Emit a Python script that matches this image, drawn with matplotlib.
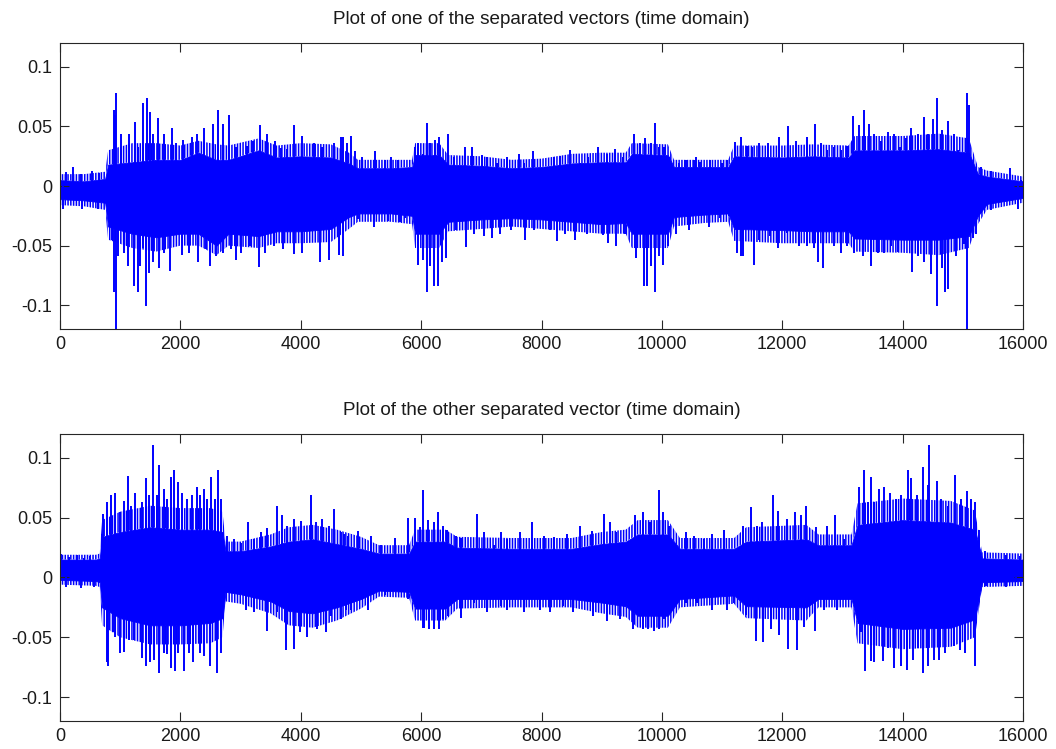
import numpy as np
import matplotlib
matplotlib.use("Agg")
import matplotlib.pyplot as plt

plt.rcParams['font.family'] = ['Liberation Sans', 'DejaVu Sans']
plt.rcParams['hatch.linewidth'] = 1.1

# --- values (sample index, amplitude) ---
# solid band of each separated vector: knots of its upper / lower edge
top_core_x = [0, 400, 750, 800, 1200, 1600, 2000, 2300, 2600, 2800, 3300, 3600, 4000,
              4500, 4800, 4950, 5500, 5850, 5900, 6300, 6450, 7000, 7500, 8000, 8500,
              9000, 9400, 9500, 10100, 10200, 10700, 11100, 11200, 12000, 12500, 13100,
              13200, 14000, 14600, 15100, 15250, 15400, 16000]
top_core_hi = [0.005, 0.004, 0.006, 0.018, 0.020, 0.022, 0.022, 0.028, 0.022, 0.022, 0.030,
               0.024, 0.025, 0.024, 0.019, 0.015, 0.015, 0.016, 0.026, 0.026, 0.018, 0.017,
               0.015, 0.016, 0.019, 0.020, 0.020, 0.027, 0.026, 0.016, 0.016, 0.016, 0.025,
               0.024, 0.025, 0.024, 0.030, 0.030, 0.031, 0.028, 0.010, 0.008, 0.004]
top_core_lo = [-0.011, -0.012, -0.014, -0.034, -0.040, -0.043, -0.040, -0.040, -0.050,
               -0.040, -0.042, -0.038, -0.038, -0.036, -0.026, -0.023, -0.023, -0.025,
               -0.040, -0.040, -0.030, -0.028, -0.027, -0.028, -0.030, -0.032, -0.031,
               -0.040, -0.040, -0.026, -0.024, -0.023, -0.036, -0.037, -0.038, -0.038,
               -0.044, -0.045, -0.045, -0.042, -0.025, -0.015, -0.010]
# looser fringe of short peaks around the solid band (same knots)
top_fringe_hi = [0.010, 0.010, 0.012, 0.030, 0.036, 0.036, 0.034, 0.038, 0.035, 0.034,
                 0.040, 0.034, 0.036, 0.035, 0.028, 0.022, 0.022, 0.022, 0.036, 0.036,
                 0.026, 0.025, 0.022, 0.023, 0.027, 0.028, 0.028, 0.036, 0.035, 0.022,
                 0.022, 0.022, 0.034, 0.034, 0.035, 0.034, 0.042, 0.042, 0.044, 0.040,
                 0.016, 0.013, 0.008]
top_fringe_lo = [-0.016, -0.017, -0.020, -0.045, -0.052, -0.055, -0.050, -0.050, -0.058,
                 -0.050, -0.052, -0.048, -0.048, -0.047, -0.036, -0.030, -0.030, -0.032,
                 -0.052, -0.052, -0.038, -0.036, -0.034, -0.036, -0.038, -0.040, -0.040,
                 -0.052, -0.052, -0.034, -0.031, -0.030, -0.046, -0.048, -0.048, -0.048,
                 -0.055, -0.056, -0.058, -0.052, -0.032, -0.020, -0.014]

bot_core_x = [0, 600, 660, 700, 1000, 1500, 2000, 2500, 2700, 2750, 3000, 3500, 3800,
              4200, 4600, 5000, 5300, 5800, 5900, 6400, 6600, 7500, 8500, 9000, 9400,
              9600, 10100, 10300, 11200, 11400, 12400, 12600, 13150, 13250, 14000,
              14800, 15200, 15320, 16000]
bot_core_hi = [0.015, 0.015, 0.016, 0.034, 0.038, 0.042, 0.040, 0.040, 0.038, 0.022, 0.022,
               0.026, 0.030, 0.032, 0.028, 0.024, 0.020, 0.020, 0.030, 0.030, 0.025, 0.024,
               0.024, 0.028, 0.030, 0.036, 0.036, 0.024, 0.024, 0.030, 0.032, 0.027, 0.027,
               0.044, 0.048, 0.046, 0.040, 0.016, 0.015]
bot_core_lo = [-0.002, -0.003, -0.004, -0.025, -0.034, -0.040, -0.040, -0.038, -0.034,
               -0.012, -0.014, -0.020, -0.028, -0.030, -0.025, -0.018, -0.011, -0.012,
               -0.026, -0.026, -0.018, -0.018, -0.018, -0.021, -0.024, -0.032, -0.032,
               -0.018, -0.015, -0.024, -0.025, -0.018, -0.018, -0.038, -0.043, -0.042,
               -0.035, -0.004, -0.003]
bot_fringe_hi = [0.019, 0.019, 0.020, 0.048, 0.055, 0.060, 0.058, 0.058, 0.055, 0.030,
                 0.030, 0.036, 0.042, 0.044, 0.040, 0.034, 0.027, 0.027, 0.040, 0.040,
                 0.034, 0.033, 0.033, 0.038, 0.040, 0.048, 0.048, 0.033, 0.033, 0.042,
                 0.044, 0.036, 0.036, 0.062, 0.066, 0.064, 0.056, 0.021, 0.020]
bot_fringe_lo = [-0.006, -0.007, -0.008, -0.040, -0.050, -0.056, -0.056, -0.055, -0.050,
                 -0.020, -0.022, -0.030, -0.040, -0.042, -0.036, -0.026, -0.016, -0.017,
                 -0.036, -0.036, -0.026, -0.025, -0.025, -0.030, -0.033, -0.042, -0.042,
                 -0.025, -0.022, -0.034, -0.036, -0.025, -0.025, -0.055, -0.060, -0.058,
                 -0.050, -0.008, -0.007]

# individual peaks sticking out of the band
top_spike_x = [100, 211, 350, 528, 640, 56, 361, 639,
               861, 890, 905, 910, 928, 928, 972, 1011, 1067, 1128, 1139, 1222, 1250, 1289,
               1289, 1322, 1378, 1378, 1433, 1445, 1483, 1489, 1545, 1545, 1633, 1639,
               1722, 1722, 1833, 1861, 1928, 2028, 2045, 2150, 2195, 2278, 2289, 2400,
               2433, 2500, 2539, 2600, 2628, 2711, 2711, 2811, 2833, 2922, 2928, 3011,
               3111, 3156, 3200, 3306, 3322, 3400, 3445, 3556, 3567, 3667, 3711, 3778,
               3889, 3889, 4028, 4028, 4222, 4322, 4361, 4472, 4556, 4639, 4667, 4834,
               4708, 4708, 4763, 4900, 4955, 5021, 5219, 5230, 5395, 5450, 5505, 5615,
               5643, 5725, 5808, 5890, 5956, 5956, 6028, 6028, 6099, 6099, 6149, 6154,
               6220, 6237, 6275, 6292, 6341, 6412, 6440, 6550, 6578, 6726, 6742, 6853,
               6880, 7018, 7045, 7100, 7182, 7265, 7309, 7430, 7485, 7622, 7705, 7732,
               7859, 7870, 7953, 8063, 8145, 8200, 8255, 8310, 8392, 8475, 8558, 8640,
               8750, 8778, 8943, 9025, 9080, 9108, 9218, 9245, 9355, 9382, 9537, 9575,
               9630, 9696, 9713, 9751, 9823, 9823, 9883, 9883, 9960, 9960, 10026, 10043,
               10098, 10114, 10235, 10290, 10400, 10455, 10565,
               10528, 10583, 10639, 10789, 10806, 10972, 11000, 11083, 11111, 11222,
               11250, 11306, 11306, 11350, 11417, 11500, 11528, 11611, 11611, 11761,
               11794, 11928, 11945, 12083, 12100, 12222, 12278, 12406, 12417, 12528,
               12539, 12600, 12639, 12683, 12750, 12861, 12861, 12972, 12972, 13083,
               13083, 13183, 13194, 13278, 13333, 13361, 13433, 13472, 13517, 13583,
               13639, 13694, 13750, 13806, 13861, 13928, 13961, 14056, 14139, 14150,
               14250, 14250, 14350, 14361, 14417, 14472, 14500, 14567, 14567, 14650,
               14650, 14705, 14750, 14761, 14861, 14889, 14917, 15017, 15067, 15072,
               15100, 15167, 15222, 15306, 15306, 15472, 15472, 15778, 15917, 15972]
top_spike_y = [0.012, 0.016, 0.010, 0.013, 0.011, -0.019, -0.019, -0.019,
               -0.045, 0.064, -0.089, 0.060, 0.078, -0.130, -0.059, 0.044, -0.056, -0.067,
               0.044, -0.084, 0.054, 0.033, -0.089, -0.067, 0.070, -0.052, -0.101, 0.074,
               -0.073, 0.062, 0.044, -0.064, 0.057, -0.069, 0.044, -0.056, -0.071, 0.049,
               0.036, -0.058, 0.039, -0.056, 0.041, 0.044, -0.064, 0.049, -0.053, -0.067,
               0.052, -0.059, 0.064, 0.052, -0.056, 0.060, -0.053, -0.062, 0.033, -0.056,
               0.034, -0.050, 0.038, -0.068, 0.051, -0.056, 0.044, -0.050, 0.038, 0.032,
               -0.053, 0.031, 0.051, -0.057, 0.042, -0.056, 0.036, -0.064, 0.033, -0.062,
               0.036, -0.058, 0.041, 0.042,
               0.041, -0.059, 0.036, 0.029, -0.028, 0.024, -0.034, 0.029, 0.022, -0.029,
               0.024, 0.022, -0.030, -0.027, 0.014, 0.033, 0.036, -0.066, 0.027, -0.062,
               0.053, -0.089, -0.067, 0.036, -0.084, 0.039, -0.084, 0.041, -0.064, -0.060,
               0.044, 0.024, -0.037, 0.033, -0.051, 0.033, -0.040, 0.026, -0.042, 0.024,
               -0.044, 0.019, -0.040, 0.024, -0.037, 0.027, 0.019, -0.045, 0.029, -0.037,
               0.013, 0.016, -0.037, 0.024, -0.046, 0.025, -0.040, 0.030, -0.045, 0.019,
               -0.040, 0.024, 0.033, -0.041, 0.027, -0.048, 0.031, -0.050, 0.024, -0.040,
               0.044, -0.060, 0.036, -0.084, 0.040, -0.084, 0.036, -0.067, 0.053, -0.089,
               0.033, -0.059, -0.066, 0.033, -0.050, 0.024, -0.040, 0.019, 0.022, -0.037,
               0.024,
               0.022, -0.023, 0.020, -0.034, 0.022, -0.027, 0.019, 0.022, -0.025, 0.037,
               -0.056, 0.041, -0.059, -0.059, 0.034, 0.033, -0.066, 0.036, -0.045, 0.036,
               -0.042, -0.052, 0.041, -0.039, 0.050, 0.038, -0.050, 0.041, -0.050, -0.052,
               0.052, -0.064, 0.036, -0.069, 0.030, 0.033, -0.050, 0.030, -0.056, 0.034,
               -0.050, 0.059, -0.056, 0.051, -0.059, 0.064, 0.052, -0.067, 0.044, -0.056,
               0.038, -0.056, 0.045, -0.050, 0.044, -0.055, 0.033, 0.040, 0.049, -0.072,
               0.044, -0.059, 0.058, -0.064, 0.044, -0.074, 0.056, 0.074, -0.101, 0.047,
               -0.069, -0.089, 0.055, -0.086, 0.044, -0.059, 0.030, -0.049, 0.078, -0.130,
               0.068, -0.044, -0.040, 0.016, -0.023, 0.013, -0.020, 0.015, -0.019, 0.005]

bot_spike_x = [11, 150, 278, 400, 500, 100, 350, 560,
               694, 722, 778, 778, 806, 850, 889, 917, 922, 989, 989, 1056, 1067, 1128,
               1139, 1183, 1222, 1239, 1361, 1361, 1428, 1428, 1483, 1489, 1550, 1567,
               1611, 1644, 1650, 1722, 1722, 1778, 1778, 1845, 1845, 1900, 1906, 1956,
               1961, 2028, 2056, 2111, 2139, 2195, 2206, 2278, 2322, 2333, 2389, 2400,
               2445, 2500, 2517, 2583, 2611, 2628, 2667, 2678,
               2778, 2833, 2889, 3000, 3083, 3122, 3222, 3222, 3333, 3445, 3445, 3600,
               3611, 3695, 3756, 3778, 3889, 3889, 3989, 4000, 4111, 4167, 4250, 4278,
               4361, 4417, 4472, 4500, 4556, 4667, 4667, 4724, 4746, 4778, 4834, 4945,
               5120, 5164, 5340, 5395, 5560, 5643, 5780, 5780, 5890, 5973, 6028, 6039,
               6055, 6121, 6138, 6209, 6220, 6286, 6292, 6358, 6358, 6429, 6440, 6578,
               6660, 6660, 6880, 6935, 7045, 7100, 7210, 7320, 7320, 7430, 7430, 7650,
               7705, 7843, 7980, 8035, 8145, 8200, 8365, 8420, 8530, 8640, 8833, 8860,
               9036, 9080, 9135, 9245, 9300, 9520, 9548, 9685, 9685, 9768, 9795, 9861,
               9944, 9949, 10015, 10043, 10125, 10400, 10400, 10538, 10565,
               10528, 10583, 10694, 10833, 10833, 11028, 11083, 11194, 11350, 11389,
               11472, 11556, 11583, 11667, 11683, 11806, 11839, 11928, 11945, 12083,
               12100, 12206, 12239, 12306, 12361, 12389, 12539, 12556, 12694, 12750,
               12872, 12917, 13028, 13083, 13194, 13278, 13306, 13350, 13372, 13417,
               13472, 13472, 13517, 13528, 13611, 13667, 13694, 13750, 13794, 13861,
               13889, 13972, 13972, 14072, 14083, 14139, 14167, 14239, 14250, 14333,
               14333, 14420, 14428, 14445, 14528, 14572, 14611, 14639, 14695, 14750,
               14861, 14872, 14945, 14961, 15028, 15072, 15139, 15194, 15206, 15261,
               15361, 15389, 15722, 15722, 15889, 15945]
bot_spike_y = [0.020, 0.017, 0.019, 0.016, 0.018, -0.008, -0.009, -0.008,
               0.036, 0.053, 0.063, -0.071, -0.074, 0.069, -0.046, 0.071, -0.050, 0.055,
               -0.063, 0.064, -0.062, 0.085, -0.052, 0.060, -0.052, 0.071, 0.063, -0.067,
               0.083, -0.074, 0.069, -0.071, 0.111, -0.069, 0.069, 0.094, -0.080, 0.074,
               -0.063, 0.066, -0.064, 0.084, -0.076, 0.090, -0.078, 0.080, -0.063, 0.071,
               -0.078, 0.066, -0.063, 0.069, -0.071, 0.076, -0.063, 0.069, -0.066, 0.074,
               0.066, -0.074, 0.084, 0.066, -0.080, 0.090, -0.063, 0.066,
               0.035, -0.013, 0.032, 0.029, -0.027, 0.046, 0.032, -0.029, 0.038, 0.041,
               -0.045, 0.060, -0.029, 0.052, -0.061, 0.043, 0.049, -0.060, -0.046, 0.047,
               -0.050, 0.069, 0.046, -0.043, 0.049, -0.046, 0.043, -0.032, 0.057, 0.038,
               -0.035, 0.036, -0.027, 0.035, -0.027, 0.039,
               -0.027, 0.035, 0.027, -0.015, 0.033, -0.012, 0.050, -0.018, 0.050, 0.042,
               -0.042, 0.073, -0.042, 0.048, -0.043, 0.046, -0.043, 0.055, -0.043, 0.043,
               -0.035, 0.040, -0.032, 0.035, 0.033, -0.034, -0.021, 0.053, 0.038, -0.029,
               0.027, 0.038, -0.024, 0.032, -0.027, 0.038, -0.029, 0.046, -0.027, 0.035,
               -0.029, 0.034, -0.024, 0.036, -0.029, 0.043, 0.039, -0.032, 0.053, -0.036,
               0.046, 0.038, -0.035, -0.043, 0.052, 0.055, -0.043, -0.043, 0.046, -0.045,
               0.073, -0.043, 0.055, -0.035, 0.043, 0.038, -0.021, 0.035, -0.020,
               0.029, -0.021, 0.032, 0.036, -0.027, 0.040, -0.027, -0.021, 0.043, -0.031,
               0.059, -0.053, 0.043, 0.046, -0.054, -0.043, 0.069, 0.056, -0.048, 0.049,
               -0.060, 0.055, -0.061, 0.052, -0.041, 0.060, -0.045, 0.042, -0.027, 0.043,
               0.052, -0.027, 0.032, -0.018, 0.029, 0.076, -0.046, 0.090, -0.078, 0.063,
               0.084, -0.070, -0.071, 0.063, 0.074, -0.070, 0.076, -0.059, 0.071, -0.076,
               0.066, 0.069, -0.074, -0.077, 0.090, 0.083, -0.069, 0.069, -0.059, 0.092,
               -0.080, 0.077, -0.074, 0.111, -0.069, 0.081, -0.069, 0.066, -0.063, 0.060,
               -0.057, 0.086, -0.061, 0.066, -0.063, 0.072, 0.066, -0.074, 0.063, 0.040,
               0.022, -0.007, 0.019, -0.008, -0.004, 0.018]

titles = ["Plot of one of the separated vectors (time domain)",
          "Plot of the other separated vector (time domain)"]
x_ticks = [0, 2000, 4000, 6000, 8000, 10000, 12000, 14000, 16000]
y_ticks = [-0.1, -0.05, 0, 0.05, 0.1]
y_tick_labels = ["-0.1", "-0.05", "0", "0.05", "0.1"]

BLUE = "#0000ff"
EDGE = "#262626"

fig = plt.figure(figsize=(10.56, 7.49), dpi=100)
ax_top = fig.add_axes([0.0568, 0.5607, 0.9120, 0.3818])
ax_bot = fig.add_axes([0.0568, 0.0374, 0.9120, 0.3832])

panels = [
    (ax_top, top_core_x, top_core_hi, top_core_lo, top_fringe_hi, top_fringe_lo,
     top_spike_x, top_spike_y, titles[0]),
    (ax_bot, bot_core_x, bot_core_hi, bot_core_lo, bot_fringe_hi, bot_fringe_lo,
     bot_spike_x, bot_spike_y, titles[1]),
]

for ax, cx, chi, clo, fhi, flo, sx, sy, title in panels:
    # fringe: dense vertical hairs around the band
    ax.fill_between(cx, chi, fhi, facecolor="none", edgecolor=BLUE,
                    hatch="||||||", linewidth=0)
    ax.fill_between(cx, flo, clo, facecolor="none", edgecolor=BLUE,
                    hatch="||||||", linewidth=0)
    ax.fill_between(cx, clo, chi, color=BLUE, linewidth=0.6, edgecolor=BLUE)
    ax.vlines(sx, 0, sy, color=BLUE, linewidth=1.4)
    ax.set_xlim(0, 16000)
    ax.set_ylim(-0.12, 0.12)
    ax.set_xticks(x_ticks)
    ax.set_xticklabels([str(t) for t in x_ticks])
    ax.set_yticks(y_ticks)
    ax.set_yticklabels(y_tick_labels)
    ax.tick_params(direction="in", length=6.8, width=0.8, color=EDGE,
                   top=True, right=True, labelsize=13, labelcolor="#1a1a1a")
    ax.tick_params(axis="y", pad=5.5)
    ax.tick_params(axis="x", pad=5)
    for sp in ax.spines.values():
        sp.set_color(EDGE)
        sp.set_linewidth(0.8)
    ax.set_title(title, fontsize=13.6, color="#1a1a1a", pad=14)

fig.savefig("out.png", dpi=100)
plt.close()
